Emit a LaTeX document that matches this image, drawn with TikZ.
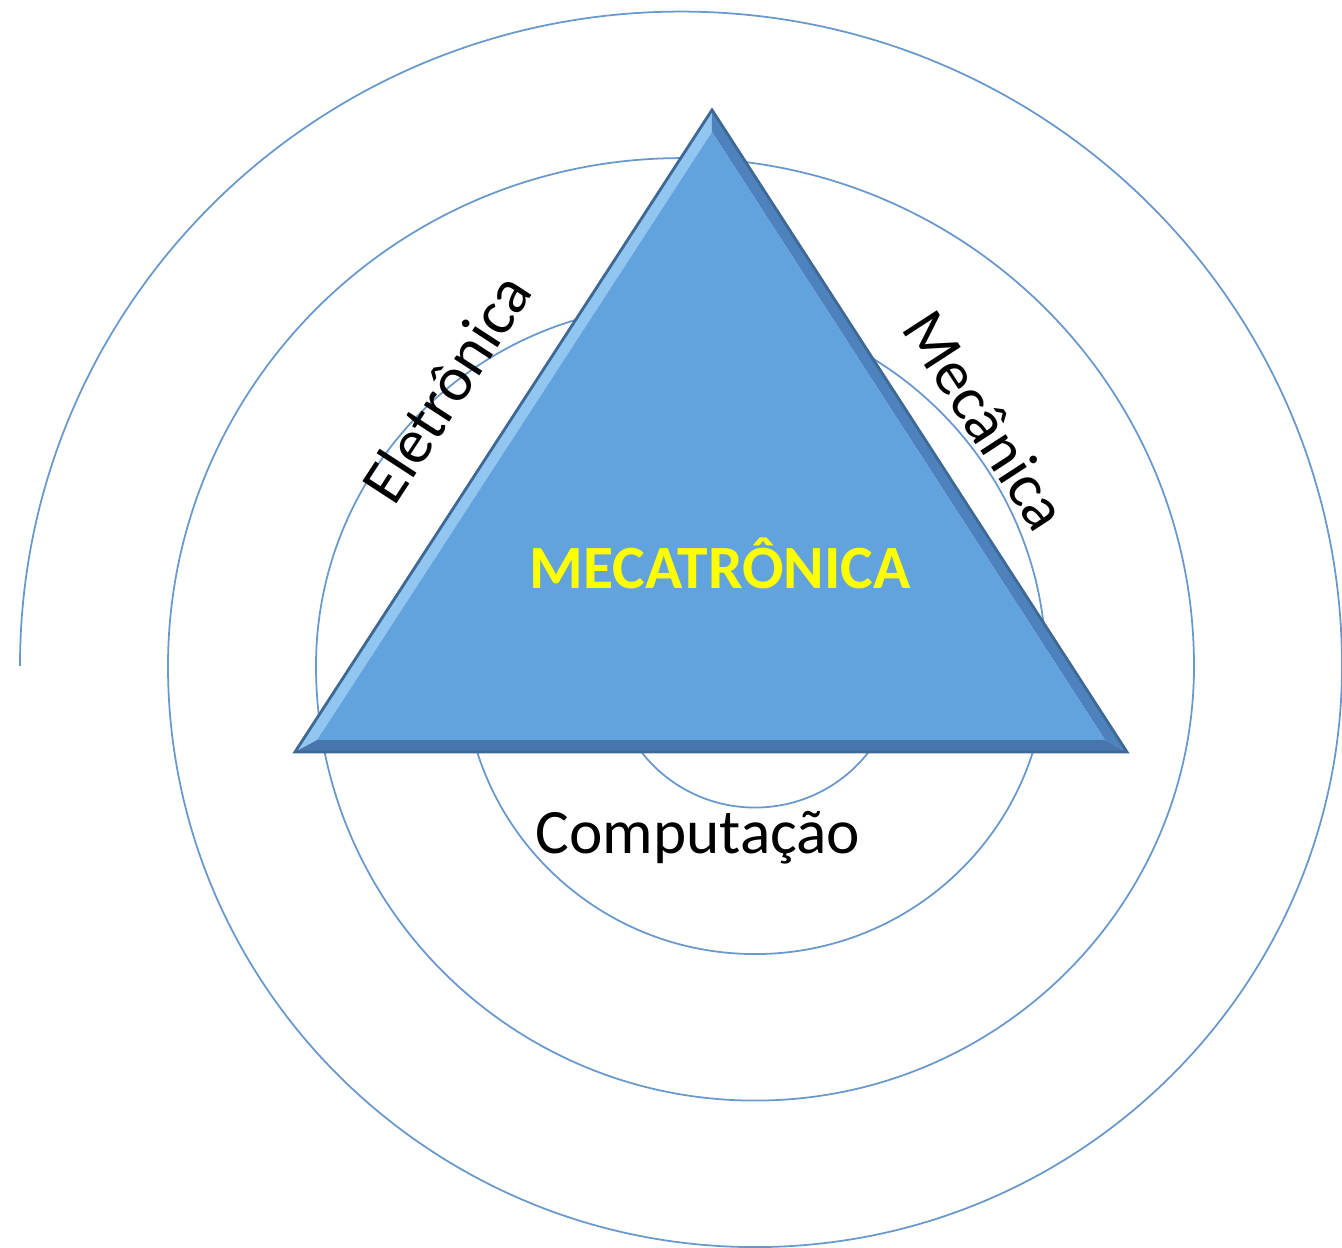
\documentclass[tikz,border=0pt]{standalone}
\usepackage{fontspec}
\setmainfont{Carlito}
\usetikzlibrary{calc}
\definecolor{spiralblue}{RGB}{105,152,205}
\definecolor{trifill}{RGB}{98,163,221}
\definecolor{triedge}{RGB}{62,104,150}
\definecolor{trilight}{RGB}{145,198,240}
\definecolor{trishade}{RGB}{78,130,188}
\definecolor{trifloor}{RGB}{70,118,172}
\definecolor{titleyellow}{RGB}{255,255,0}

\begin{document}
\begin{tikzpicture}[
    spiral/.style={spiralblue, line width=0.5pt},
    sidelabel/.style={font=\fontsize{18}{21}\selectfont, inner sep=0pt},
    title/.style={titleyellow, font=\bfseries\fontsize{17.5}{20}\selectfont, inner sep=0pt},
  ]
  \useasboundingbox (0,0) rectangle (13.42,12.48);

  \draw[spiral] (0.20,5.82)
    \foreach \r in {6.61,5.13,3.65,2.17} {
      arc[start angle=180, end angle=0, x radius=\r, y radius={0.99*\r}]
      arc[start angle=0, end angle=-180, x radius={\r-0.74}, y radius={0.99*(\r-0.74)}]
    };

  \coordinate (apex) at (7.12,11.38);
  \coordinate (bl) at (2.95,4.96);
  \coordinate (br) at (11.27,4.96);
  \coordinate (mid) at (7.115,7.221);
  \coordinate (iapex) at ($(mid)!0.947!(apex)$);
  \coordinate (ibl) at ($(mid)!0.947!(bl)$);
  \coordinate (ibr) at ($(mid)!0.947!(br)$);

  \fill[trilight] (apex) -- (bl) -- (ibl) -- (iapex) -- cycle;
  \fill[trishade] (apex) -- (iapex) -- (ibr) -- (br) -- cycle;
  \fill[trifloor] (bl) -- (br) -- (ibr) -- (ibl) -- cycle;
  \fill[trifill] (iapex) -- (ibl) -- (ibr) -- cycle;
  \draw[triedge, line width=0.8pt] (apex) -- (bl) -- (br) -- cycle;

  \node[title] (meca) at (7.20,6.85) {MECATRÔNICA};
  \node[sidelabel, rotate=57] (eletro) at (4.46,8.60) {Eletrônica};
  \node[sidelabel, rotate=-57] (mecan) at (9.86,8.28) {Mecânica};
  \node[sidelabel] (comp) at (6.98,4.10) {Computação};
\end{tikzpicture}
\end{document}
